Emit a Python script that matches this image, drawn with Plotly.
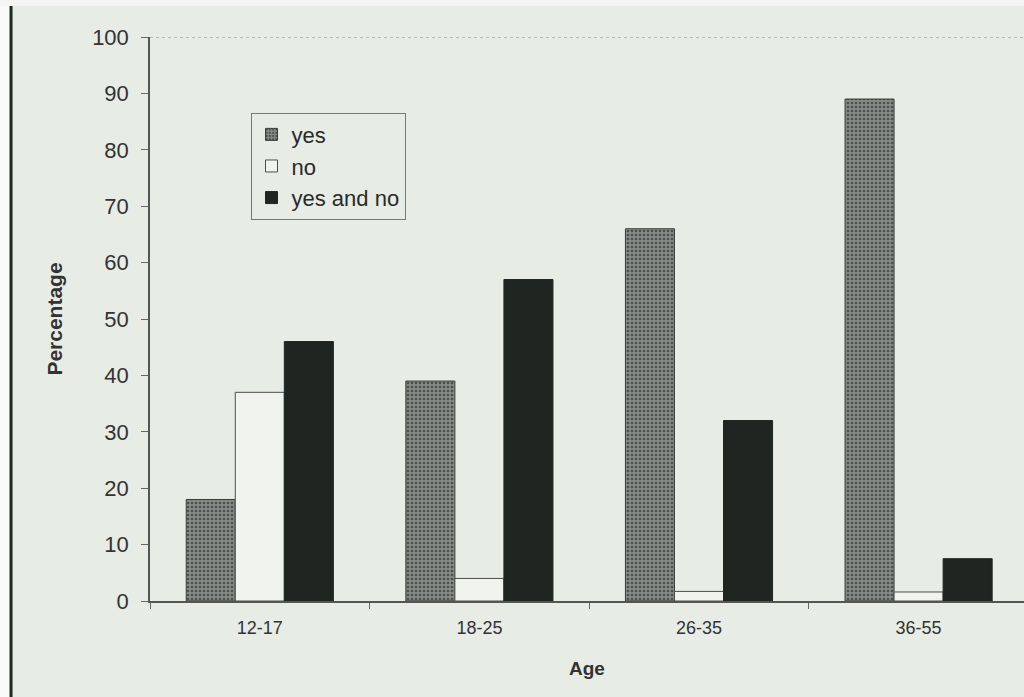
import plotly.graph_objects as go

ages = ["12-17", "18-25", "26-35", "36-55"]
yes_vals = [18, 39, 66, 89]
no_vals = [37, 4, 1.7, 1.6]
yes_and_no_vals = [46, 57, 32, 7.5]
y_ticks = list(range(0, 101, 10))

BG = "#e7ece5"
FONT = "Liberation Sans, Arial, sans-serif"

fig = go.Figure()
fig.add_trace(go.Bar(
    x=ages, y=yes_vals, name="yes",
    marker=dict(color="#7b7f7b", line=dict(color="#3a3d3a", width=1),
                pattern=dict(shape=".", fgcolor="#4c504c", bgcolor="#878b87",
                             size=4, solidity=0.35, fillmode="replace")),
))
fig.add_trace(go.Bar(
    x=ages, y=no_vals, name="no",
    marker=dict(color="#f1f3ef", line=dict(color="#4a4d4a", width=1)),
))
fig.add_trace(go.Bar(
    x=ages, y=yes_and_no_vals, name="yes and no",
    marker=dict(color="#1f2521", line=dict(color="#1f2521", width=1)),
))

fig.update_layout(
    width=1024, height=697,
    margin=dict(l=150, r=0, t=37, b=96),
    paper_bgcolor=BG, plot_bgcolor=BG,
    barmode="group", bargap=0.33, bargroupgap=0.0,
    font=dict(family=FONT, color="#333333"),
    showlegend=True,
    legend=dict(
        x=0.115, y=0.866, xanchor="left", yanchor="top",
        bgcolor=BG, bordercolor="#777777", borderwidth=1,
        font=dict(size=22, color="#2a2a2a"),
        itemwidth=30, tracegroupgap=0,
    ),
    xaxis=dict(
        range=[-0.5, 3.48],
        showline=True, linecolor="#555555", linewidth=1.5,
        ticks="outside", tickson="boundaries", ticklen=6, tickcolor="#666666",
        tickfont=dict(size=18, color="#333333"), ticklabelstandoff=10,
        title=dict(text="<b>Age</b>", font=dict(size=19, color="#333333"), standoff=24),
        showgrid=False,
    ),
    yaxis=dict(
        range=[0, 100], tickvals=y_ticks,
        showline=True, linecolor="#555555", linewidth=1.5,
        ticks="outside", ticklen=7, tickcolor="#666666",
        tickfont=dict(size=22, color="#333333"), ticklabelstandoff=8,
        title=dict(text="<b>Percentage</b>", font=dict(size=21, color="#333333"), standoff=24),
        showgrid=False, zeroline=False,
    ),
    shapes=[
        dict(type="line", xref="paper", yref="y", x0=0, x1=1, y0=100, y1=100,
             line=dict(color="#888888", width=1, dash="dot")),
        dict(type="rect", xref="paper", yref="paper", x0=-0.2, x1=-0.1600, y0=-0.2, y1=1.1,
             fillcolor="#fafafa", line=dict(width=0), layer="below"),
        dict(type="line", xref="paper", yref="paper", x0=-0.1590, x1=-0.1590, y0=-0.2, y1=1.06,
             line=dict(color="#1c2a22", width=3)),
        dict(type="rect", xref="paper", yref="paper", x0=-0.2, x1=1.1, y0=1.055, y1=1.2,
             fillcolor="#f4f4f4", line=dict(width=0)),
    ],
)

fig.write_html("out.html")
